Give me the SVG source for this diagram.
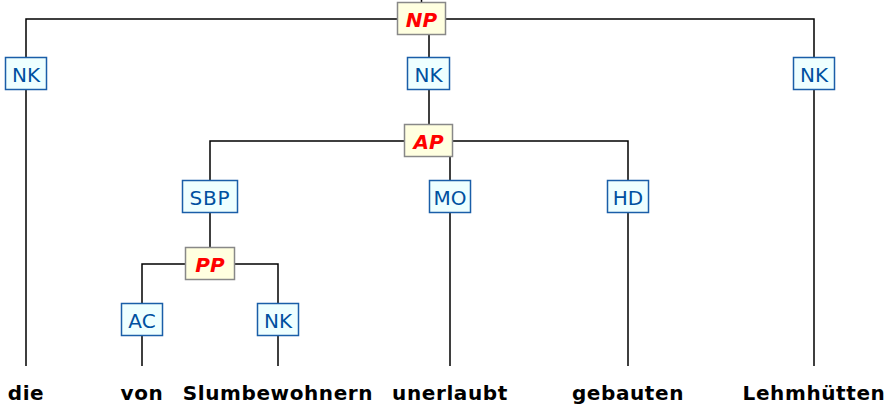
<svg xmlns="http://www.w3.org/2000/svg" width="892" height="409" viewBox="0 0 892 409">
<style>
.e{fill:none;stroke:#000;stroke-width:1.5}
.cat rect{fill:#ffffe0;stroke:#888;stroke-width:1.5}
.cat text{font-family:"DejaVu Sans",Verdana,sans-serif;font-size:20px;font-weight:bold;font-style:italic;fill:#ff0000;text-anchor:middle}
.fn rect{fill:#eeffff;stroke:#1a5ea8;stroke-width:1.5}
.fn text{font-family:"DejaVu Sans",Verdana,sans-serif;font-size:20px;fill:#0050a0;text-anchor:middle}
.w text{font-family:"DejaVu Sans",Verdana,sans-serif;font-size:20px;font-weight:bold;fill:#000;text-anchor:middle;letter-spacing:0.6px}
</style>
<rect width="892" height="409" fill="#fff"/>
<g id="connectors">
<path class="e" d="M421.5 0V2"/>
<path class="e" d="M26 57V19H397M446 19H814V57"/>
<path class="e" d="M429 34V57M429 90V124"/>
<path class="e" d="M210 180V141H404M453 141H628V180"/>
<path class="e" d="M450 157V180"/>
<path class="e" d="M210 213V247"/>
<path class="e" d="M142 303V264H185M235 264H278V303"/>
<path class="e" d="M26 90V366M814 90V366M450 213V366M628 213V366M142 336V366M278 336V366"/>
</g>
<g id="NP" class="cat"><rect x="397.5" y="2.5" width="48" height="32"/><text x="421.5" y="27">NP</text></g>
<g id="NK1" class="fn"><rect x="5.5" y="57.5" width="41" height="32"/><text x="26" y="82">NK</text></g>
<g id="NK2" class="fn"><rect x="407.5" y="57.5" width="42" height="32"/><text x="428.5" y="82">NK</text></g>
<g id="NK3" class="fn"><rect x="793.5" y="57.5" width="41" height="32"/><text x="814" y="82">NK</text></g>
<g id="AP" class="cat"><rect x="404.5" y="124.5" width="48" height="32"/><text x="428.5" y="149">AP</text></g>
<g id="SBP" class="fn"><rect x="182.5" y="180.5" width="55" height="32"/><text x="210" y="205" letter-spacing="0.8">SBP</text></g>
<g id="MO" class="fn"><rect x="429.5" y="180.5" width="41" height="32"/><text x="450" y="205">MO</text></g>
<g id="HD" class="fn"><rect x="607.5" y="180.5" width="41" height="32"/><text x="628" y="205">HD</text></g>
<g id="PP" class="cat"><rect x="185.5" y="247.5" width="49" height="32"/><text x="210" y="272">PP</text></g>
<g id="AC" class="fn"><rect x="121.5" y="303.5" width="41" height="32"/><text x="142" y="328">AC</text></g>
<g id="NK4" class="fn"><rect x="257.5" y="303.5" width="41" height="32"/><text x="278" y="328">NK</text></g>
<g id="words" class="w">
<text x="26" y="400">die</text>
<text x="142" y="400">von</text>
<text x="278" y="400">Slumbewohnern</text>
<text x="450" y="400">unerlaubt</text>
<text x="628" y="400">gebauten</text>
<text x="814" y="400">Lehmhütten</text>
</g>
</svg>
